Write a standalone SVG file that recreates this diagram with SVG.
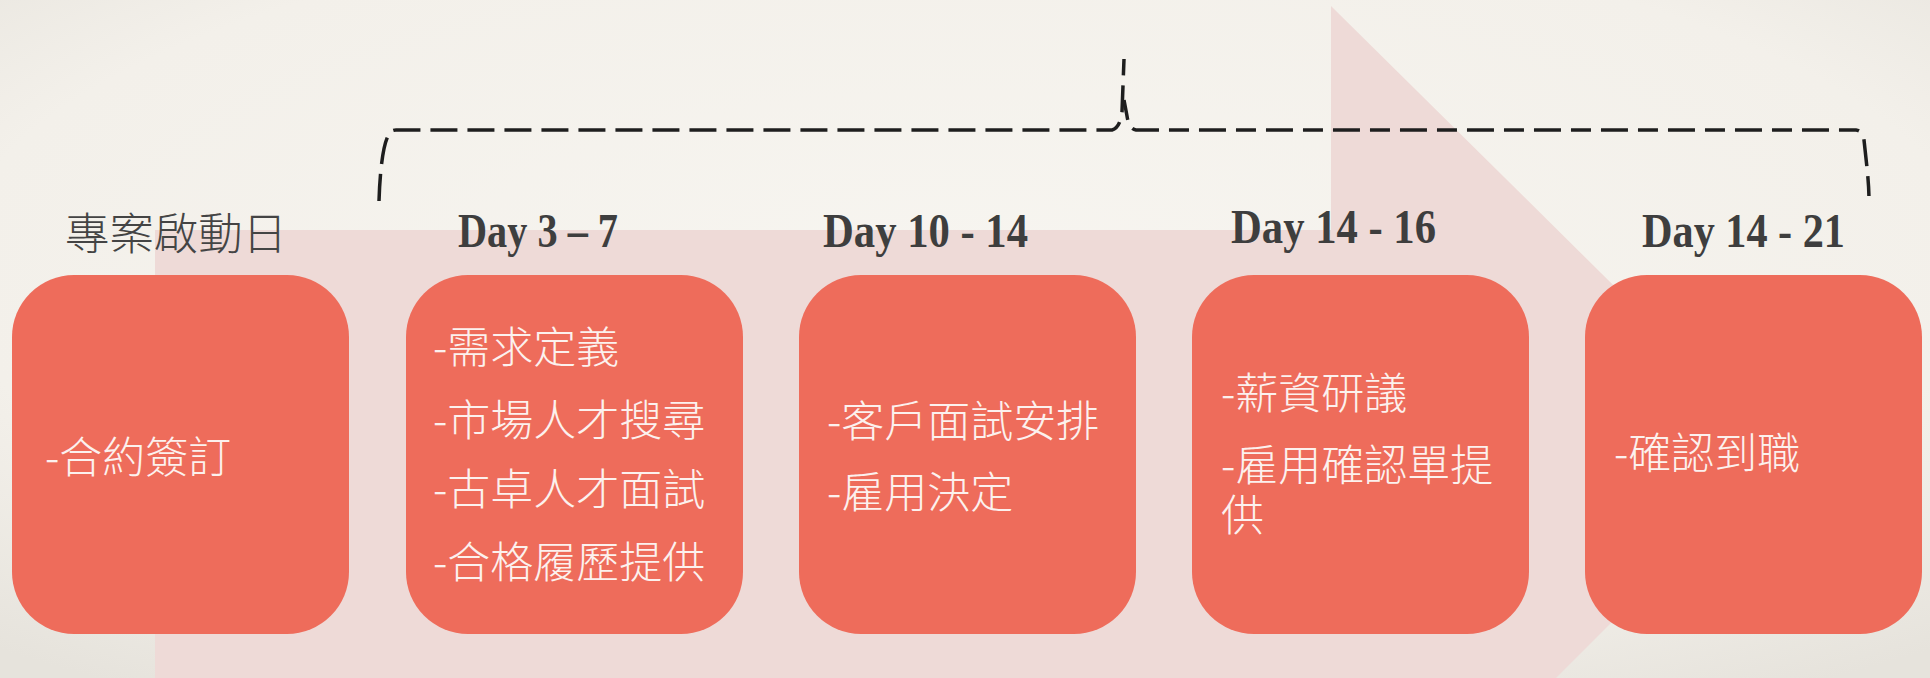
<svg xmlns="http://www.w3.org/2000/svg" width="1930" height="678" viewBox="0 0 1930 678">
  <defs>
    <radialGradient id="bg" cx="50%" cy="40%" r="75%">
      <stop offset="0" stop-color="#F7F5F0"/>
      <stop offset="0.7" stop-color="#F3F0EA"/>
      <stop offset="1" stop-color="#E6E3DC"/>
    </radialGradient>
  </defs>
  <style>
    .box { fill: #EE6C5B; }
    .item { font-family: "Noto Sans CJK TC", "Noto Sans CJK SC", sans-serif; font-size: 43px; fill: #FCF1EE; font-weight: 300; }
    .day { font-family: "Liberation Serif", serif; font-size: 48px; font-weight: bold; fill: #3E3E3E; }
    .start { font-family: "Noto Sans CJK TC", "Noto Sans CJK SC", sans-serif; font-size: 44px; fill: #444444; font-weight: 300; }
    .brace { fill: none; stroke: #1E1E1E; stroke-width: 3.5; stroke-dasharray: 27 10; }
  </style>
  <rect x="0" y="0" width="1930" height="678" fill="url(#bg)"/>
  <polygon id="arrow" points="155,230 1331,230 1331,6 1782,452 1552,682 155,682" fill="#EEDAD7"/>

  <g id="connectors">
    <path class="brace" d="M379,201 C380,170 383,146 388,136 Q390,130 396,130 L1112,130 Q1120,128 1122,112 L1124,59"/>
    <path class="brace" d="M1124,100 L1127,116 Q1129,129 1136,130 L1856,130 Q1863,131 1864,140 C1866,160 1869,180 1869,201" style="stroke-dasharray: 20 10 27 10"/>
  </g>

  <g id="node-start">
    <text class="start" x="176" y="250" text-anchor="middle" textLength="222" lengthAdjust="spacingAndGlyphs">專案啟動日</text>
    <rect class="box" x="12" y="275" width="337" height="359" rx="62" ry="62"/>
    <text class="item" x="45" y="473">-合約簽訂</text>
  </g>

  <g id="node-day3">
    <text class="day" x="458" y="247" textLength="160" lengthAdjust="spacingAndGlyphs">Day 3 – 7</text>
    <rect class="box" x="406" y="275" width="337" height="359" rx="62" ry="62"/>
    <text class="item" x="433" y="363">-需求定義</text>
    <text class="item" x="433" y="436">-市場人才搜尋</text>
    <text class="item" x="433" y="505">-古卓人才面試</text>
    <text class="item" x="433" y="578">-合格履歷提供</text>
  </g>

  <g id="node-day10">
    <text class="day" x="823" y="247" textLength="205" lengthAdjust="spacingAndGlyphs">Day 10 - 14</text>
    <rect class="box" x="799" y="275" width="337" height="359" rx="62" ry="62"/>
    <text class="item" x="827" y="437">-客戶面試安排</text>
    <text class="item" x="827" y="508">-雇用決定</text>
  </g>

  <g id="node-day14">
    <text class="day" x="1231" y="243" textLength="205" lengthAdjust="spacingAndGlyphs">Day 14 - 16</text>
    <rect class="box" x="1192" y="275" width="337" height="359" rx="62" ry="62"/>
    <text class="item" x="1221" y="409">-薪資研議</text>
    <text class="item" x="1221" y="481">-雇用確認單提<tspan x="1221" y="531">供</tspan></text>
  </g>

  <g id="node-day21">
    <text class="day" x="1642" y="247" textLength="203" lengthAdjust="spacingAndGlyphs">Day 14 - 21</text>
    <rect class="box" x="1585" y="275" width="337" height="359" rx="62" ry="62"/>
    <text class="item" x="1614" y="469">-確認到職</text>
  </g>
</svg>
